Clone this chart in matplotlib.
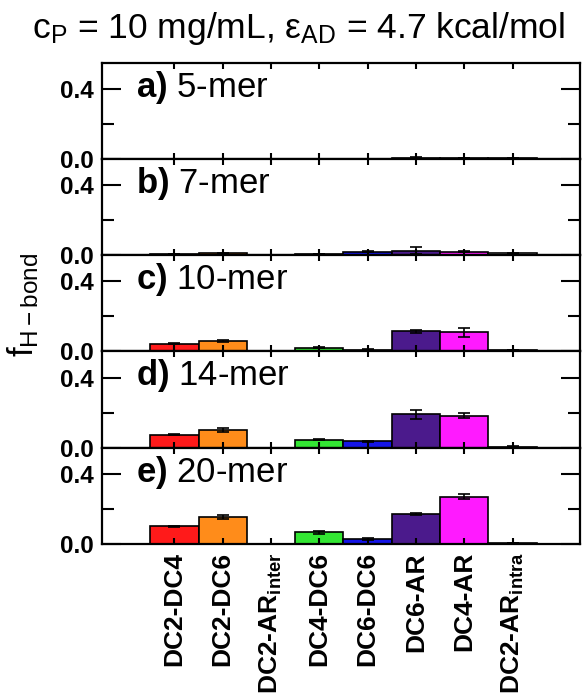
import numpy as np
import matplotlib
matplotlib.use("Agg")
import matplotlib.pyplot as plt
from matplotlib.ticker import FixedLocator

matplotlib.rcParams.update({
    "font.family": ["Liberation Sans", "DejaVu Sans"],
    "mathtext.fontset": "custom",
    "mathtext.rm": "Liberation Sans",
    "mathtext.it": "Liberation Sans",
    "mathtext.bf": "Liberation Sans:bold",
    "mathtext.default": "regular",
    "axes.linewidth": 1.6,
})

CATEGORIES = ["DC2-DC4", "DC2-DC6", r"DC2-AR$_{inter}$", "DC4-DC6",
              "DC6-DC6", "DC6-AR", "DC4-AR", r"DC2-AR$_{intra}$"]
COLORS = ["#ff1a1a", "#ff8c1a", "#ffffff", "#33e633",
          "#1414e6", "#4b1a8c", "#ff1aff", "#ffffff"]

PANELS = ["a)", "b)", "c)", "d)", "e)"]
LENGTHS = ["5-mer", "7-mer", "10-mer", "14-mer", "20-mer"]

mer5 = [0.002, 0.002, 0.0, 0.002, 0.002, 0.006, 0.003, 0.005]
mer7 = [0.005, 0.01, 0.0, 0.005, 0.02, 0.025, 0.02, 0.01]
mer10 = [0.045, 0.057, 0.0, 0.022, 0.01, 0.114, 0.108, 0.008]
mer14 = [0.074, 0.10, 0.0, 0.045, 0.035, 0.19, 0.183, 0.005]
mer20 = [0.099, 0.153, 0.0, 0.065, 0.027, 0.17, 0.27, 0.005]

err5 = [0.0, 0.0, 0.0, 0.0, 0.0, 0.004, 0.0, 0.003]
err7 = [0.0, 0.004, 0.0, 0.0, 0.004, 0.02, 0.004, 0.004]
err10 = [0.004, 0.006, 0.0, 0.003, 0.002, 0.008, 0.025, 0.002]
err14 = [0.004, 0.012, 0.0, 0.004, 0.003, 0.025, 0.012, 0.002]
err20 = [0.004, 0.01, 0.0, 0.008, 0.003, 0.006, 0.012, 0.002]

values = [mer5, mer7, mer10, mer14, mer20]
errors = [err5, err7, err10, err14, err20]

fig, axes = plt.subplots(5, 1, figsize=(5.86, 6.98), dpi=100, sharex=True)
fig.subplots_adjust(left=0.174, right=0.99, top=0.91, bottom=0.221, hspace=0)

x = np.arange(len(CATEGORIES))
for i, ax in enumerate(axes):
    ax.bar(x, values[i], width=1.0, color=COLORS, edgecolor="black", linewidth=1.2,
           yerr=errors[i], capsize=4, error_kw={"elinewidth": 1.2, "capthick": 1.2})
    ax.set_ylim(0, 0.55)
    ax.set_xlim(-1.5, 8.4)
    ax.set_yticks([0.0, 0.4])
    ax.set_yticklabels(["0.0", "0.4"], fontweight="bold", fontsize=17.5)
    ax.yaxis.set_minor_locator(FixedLocator([0.2]))
    ax.tick_params(axis="y", which="major", direction="in", length=14, width=1.5,
                   right=True, pad=6)
    ax.tick_params(axis="y", which="minor", direction="in", length=8.5, width=1.5,
                   right=True)
    ax.tick_params(axis="x", which="major", direction="in", length=4.5, width=1.5,
                   top=True, pad=6)
    ax.text(0.071, 0.745, r"$\mathbf{" + PANELS[i] + r"}$ " + LENGTHS[i],
            transform=ax.transAxes, fontsize=25, va="center", ha="left")

axes[-1].set_xticks(x)
axes[-1].set_xticklabels(CATEGORIES, rotation=90, fontweight="bold", fontsize=19)

fig.text(0.04, 0.563, r"f$_{H-bond}$", rotation=90, fontsize=25, va="center", ha="center")
fig.suptitle(r"c$_P$ = 10 mg/mL, $\epsilon_{AD}$ = 4.7 kcal/mol", fontsize=25.5,
             x=0.51, y=0.985, va="top")

fig.savefig("out.png", dpi=100)
